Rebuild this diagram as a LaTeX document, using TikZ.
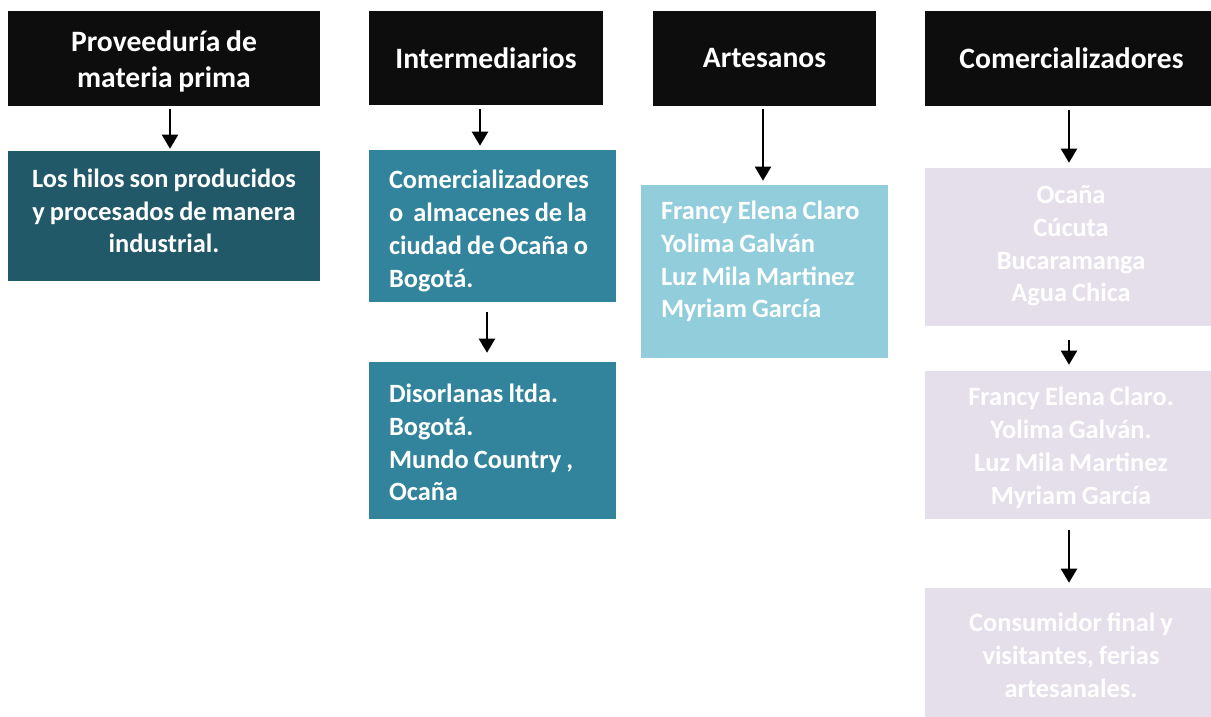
\documentclass[tikz,border=0pt]{standalone}
\usepackage{fontspec}
\setmainfont{Carlito}[WordSpace=0.85]
\usetikzlibrary{arrows.meta,calc}
\definecolor{hdr}{HTML}{0D0D0D}
\definecolor{cdark}{HTML}{215968}
\definecolor{cmid}{HTML}{31849B}
\definecolor{clight}{HTML}{92CDDC}
\definecolor{clav}{HTML}{E5DFEC}
\tikzset{
  hfont/.style={font=\bfseries\fontsize{22.2}{26.6}\selectfont},
  bfont/.style={font=\bfseries\fontsize{19.8}{24.6}\selectfont},
  header/.style={inner sep=0pt, text=white, hfont, fill=hdr, align=center},
  plainbox/.style={inner sep=0pt},
  htext/.style={inner sep=0pt, text=white, hfont, align=center},
  ltext/.style={inner sep=0pt, text=white, bfont, align=left, anchor=west},
  ctext/.style={inner sep=0pt, text=white, bfont, align=center},
  arr/.style={draw=black, line width=1.5pt, -{Triangle[width=12pt,length=10.5pt]}},
}
\begin{document}
\begin{tikzpicture}[x=0.75pt,y=-0.75pt]
\useasboundingbox (0,0) rectangle (1211,717);
% column 1
\node[plainbox, fill=hdr, minimum width=312*0.75pt, minimum height=95*0.75pt] (h1) at (164,58.5) {};
\node[htext] (th1) at ($(h1.center)+(0,3)$) {Proveeduría de\\materia prima};
\node[plainbox, fill=cdark, minimum width=312*0.75pt, minimum height=130*0.75pt] (b1) at (164,216) {};
\node[ctext] (t1) at ($(b1.center)+(0,-5)$) {Los hilos son producidos\\y procesados de manera\\industrial.};
% column 2
\node[header, minimum width=234*0.75pt, minimum height=94*0.75pt] (h2) at (486,58) {Intermediarios};
\node[plainbox, fill=cmid, minimum width=247*0.75pt, minimum height=152*0.75pt] (b2a) at (492.5,226) {};
\node[ltext] (t2a) at ($(b2a.west)+(20,5)$) {Comercializadores\\o~ almacenes de la\\ciudad de Ocaña o\\Bogotá.};
\node[plainbox, fill=cmid, minimum width=247*0.75pt, minimum height=157*0.75pt] (b2b) at (492.5,440.5) {};
\node[ltext] (t2b) at ($(b2b.west)+(20,2)$) {Disorlanas ltda.\\Bogotá.\\Mundo Country ,\\Ocaña};
% column 3
\node[header, minimum width=223*0.75pt, minimum height=95*0.75pt] (h3) at (764.5,58.5) {Artesanos};
\node[plainbox, fill=clight, minimum width=247*0.75pt, minimum height=173*0.75pt] (b3) at (764.5,271.5) {};
\node[ltext] (t3) at ($(b3.west)+(20,-10)$) {Francy Elena Claro\\Yolima Galván\\Luz Mila Martinez\\Myriam García};
% column 4
\node[plainbox, fill=hdr, minimum width=286*0.75pt, minimum height=95*0.75pt] (h4) at (1068,58.5) {};
\node[htext] (th4) at ($(h4.center)+(3.5,0)$) {Comercializadores};
\node[plainbox, fill=clav, minimum width=286*0.75pt, minimum height=158*0.75pt] (b4a) at (1068,247) {};
\node[ctext] (t4a) at ($(b4a.center)+(3,-1)$) {Ocaña\\Cúcuta\\Bucaramanga\\Agua Chica};
\node[plainbox, fill=clav, minimum width=286*0.75pt, minimum height=148*0.75pt] (b4b) at (1068,445) {};
\node[ctext] (t4b) at ($(b4b.center)+(3,3)$) {Francy Elena Claro.\\Yolima Galván.\\Luz Mila Martinez\\Myriam García};
\node[plainbox, fill=clav, minimum width=286*0.75pt, minimum height=129*0.75pt] (b4c) at (1068,652.5) {};
\node[ctext] (t4c) at ($(b4c.center)+(3,3)$) {Consumidor final y\\visitantes, ferias\\artesanales.};
% arrows
\draw[arr] ($(h1.south)+(6,3)$) -- ($(b1.north)+(6,-2)$);
\draw[arr] ($(h2.south)+(-6,4)$) -- ($(b2a.north)+(-12.5,-4)$);
\draw[arr] ($(b2a.south)+(-5.5,10)$) -- ($(b2b.north)+(-5.5,-9)$);
\draw[arr] ($(h3.south)+(-1.5,3)$) -- ($(b3.north)+(-1.5,-4)$);
\draw[arr] ($(h4.south)+(1,4)$) -- ($(b4a.north)+(1,-5)$);
\draw[arr] ($(b4a.south)+(1,14)$) -- ($(b4b.north)+(1,-6)$);
\draw[arr] ($(b4b.south)+(1,11)$) -- ($(b4c.north)+(1,-5)$);
\end{tikzpicture}
\end{document}
